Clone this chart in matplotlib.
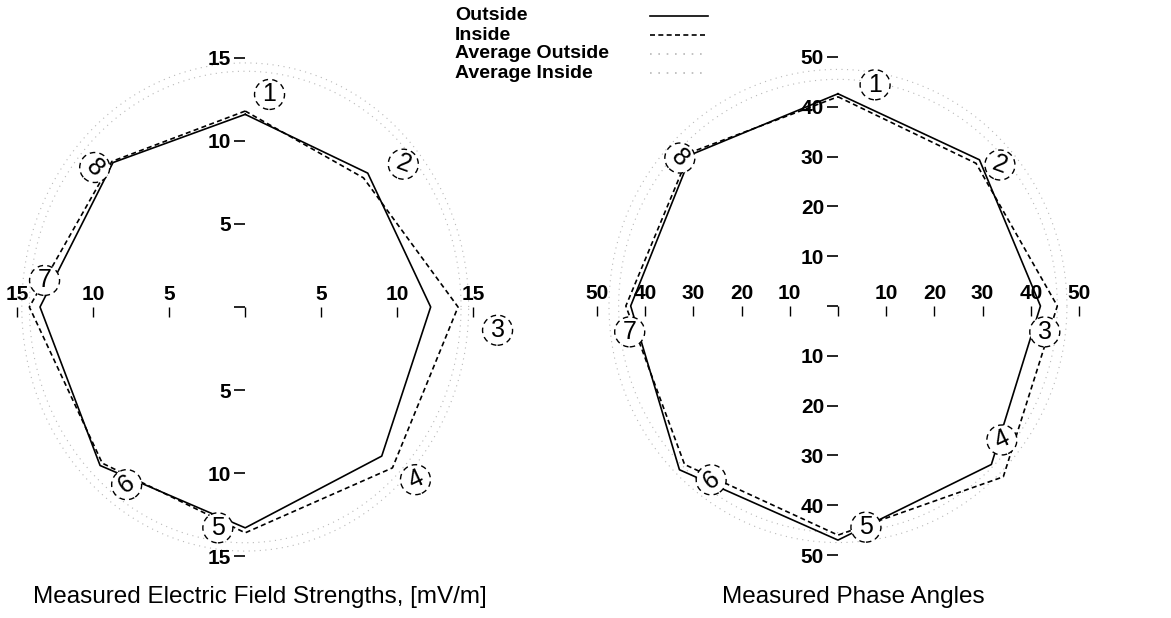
"""
Measured field strengths and phase angles at 8 positions around the site
- outside / inside measurements, with average circles
"""
import matplotlib
matplotlib.use("Agg")
import matplotlib.pyplot as plt
import numpy as np
from matplotlib.lines import Line2D
from matplotlib.ticker import FuncFormatter

plt.rcParams["font.family"] = ["Liberation Sans", "DejaVu Sans"]

POINTS = [1, 2, 3, 4, 5, 6, 7, 8]

# electric field strength, mV/m
FIELD_OUTSIDE = [11.6, 11.4, 12.2, 12.7, 13.3, 13.5, 13.5, 12.3]
FIELD_INSIDE = [11.8, 11.0, 14.0, 13.7, 13.6, 13.3, 14.2, 12.4]
FIELD_AVG_OUTSIDE = 14.2
FIELD_AVG_INSIDE = 14.7
FIELD_TICKS = [-15, -10, -5, 0, 5, 10, 15]

# phase angle, degrees
PHASE_OUTSIDE = [42.6, 41.5, 42.0, 45.0, 47.0, 46.5, 43.0, 43.0]
PHASE_INSIDE = [42.0, 40.5, 45.5, 48.5, 46.0, 45.0, 44.0, 43.5]
PHASE_AVG_OUTSIDE = 45.5
PHASE_AVG_INSIDE = 47.5
PHASE_TICKS = [-50, -40, -30, -20, -10, 0, 10, 20, 30, 40, 50]

# layout: where the circled point numbers sit (data coords) and their tilt
FIELD_LABEL_XY = [(1.6, 12.8), (10.4, 8.6), (16.6, -1.4), (11.2, -10.4),
                  (-1.8, -13.3), (-7.8, -10.7), (-13.2, 1.6), (-9.9, 8.4)]
PHASE_LABEL_XY = [(7.7, 44.4), (33.6, 28.3), (42.9, -5.2), (34.0, -26.9),
                  (5.8, -44.4), (-26.3, -34.9), (-43.2, -5.2), (-32.8, 29.7)]
LABEL_ROT = [0, -20, 0, 25, 0, 35, 0, -45]

ANGLES = np.deg2rad(90 - 45 * (np.array(POINTS) - 1))
AVG_COLOR = "#b8b8b8"


def polygon(radii):
    r = np.append(radii, radii[0])
    a = np.append(ANGLES, ANGLES[0])
    return r * np.cos(a), r * np.sin(a)


def draw_panel(ax, outside, inside, avg_out, avg_in, ticks, label_xy, lim):
    t = np.linspace(0, 2 * np.pi, 300)
    for r in (avg_out, avg_in):
        ax.plot(r * np.cos(t), r * np.sin(t), color=AVG_COLOR, lw=0.8,
                ls=(0, (1, 4)), zorder=1)

    x, y = polygon(np.array(outside))
    ax.plot(x, y, color="black", lw=1.2, ls="-", zorder=2)
    x, y = polygon(np.array(inside))
    ax.plot(x, y, color="black", lw=1.2, ls=(0, (3, 2)), zorder=2)

    for p, (lx, ly), rot in zip(POINTS, label_xy, LABEL_ROT):
        ax.text(lx, ly, str(p), fontsize=18, ha="center", va="center",
                rotation=rot, zorder=4,
                bbox=dict(boxstyle="circle,pad=0.12", fc="white", ec="black",
                          lw=1.0, ls=(0, (4, 3))))

    ax.set_xlim(lim[0])
    ax.set_ylim(lim[1])
    ax.spines["right"].set_visible(False)
    ax.spines["bottom"].set_visible(False)
    ax.spines["left"].set_position(("data", 0))
    ax.spines["top"].set_position(("data", 0))
    ax.spines["left"].set_visible(False)
    ax.spines["top"].set_visible(False)
    ax.xaxis.set_ticks_position("top")
    ax.xaxis.set_label_position("top")
    ax.yaxis.set_ticks_position("left")
    ax.set_xticks(ticks)
    ax.set_yticks(ticks)
    fmt = FuncFormatter(lambda v, p: "" if v == 0 else f"{abs(v):g}")
    ax.xaxis.set_major_formatter(fmt)
    ax.yaxis.set_major_formatter(fmt)
    ax.tick_params(axis="x", direction="in", length=7, width=1, pad=2,
                   labelsize=15)
    ax.tick_params(axis="y", direction="out", length=8, width=1.2, pad=2,
                   labelsize=15)
    for lab in ax.get_xticklabels() + ax.get_yticklabels():
        lab.set_fontweight("bold")
    ax.patch.set_visible(False)


fig = plt.figure(figsize=(11.71, 6.18), dpi=100)

ax1 = fig.add_axes([0.0017, 0.0599, 0.4219, 0.8867])
draw_panel(ax1, FIELD_OUTSIDE, FIELD_INSIDE, FIELD_AVG_OUTSIDE, FIELD_AVG_INSIDE,
           FIELD_TICKS, FIELD_LABEL_XY, ((-16, 16.5), (-16.5, 16.5)))

ax2 = fig.add_axes([0.4974, 0.0777, 0.4364, 0.8544])
draw_panel(ax2, PHASE_OUTSIDE, PHASE_INSIDE, PHASE_AVG_OUTSIDE, PHASE_AVG_INSIDE,
           PHASE_TICKS, PHASE_LABEL_XY, ((-53, 53), (-53, 53)))

fig.text(260 / 1171, 1 - 597 / 618, "Measured Electric Field Strengths, [mV/m]",
         ha="center", va="center", fontsize=17.5)
fig.text(853 / 1171, 1 - 597 / 618, "Measured Phase Angles",
         ha="center", va="center", fontsize=17.5)

# legend
legend_items = [
    ("Outside", dict(color="black", ls="-")),
    ("Inside", dict(color="black", ls=(0, (3, 2)))),
    ("Average Outside", dict(color=AVG_COLOR, ls=(0, (1, 4)))),
    ("Average Inside", dict(color=AVG_COLOR, ls=(0, (1, 4)))),
]
for i, (name, style) in enumerate(legend_items):
    y = 1 - (16 + 19 * i) / 618
    fig.text(455 / 1171, y, name, ha="left", va="center", fontsize=14,
             fontweight="bold", linespacing=1.0)
    fig.add_artist(Line2D([650 / 1171, 708 / 1171], [y, y], lw=1.2, **style))

fig.savefig("out.png", dpi=100)
